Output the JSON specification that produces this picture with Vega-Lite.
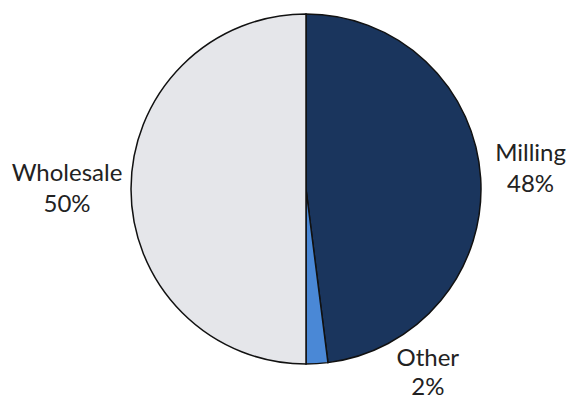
{
  "$schema": "https://vega.github.io/schema/vega-lite/v6.json",
  "autosize": {"type": "none"},
  "width": 522,
  "height": 378,
  "padding": {"left": 45, "right": 0, "top": 0, "bottom": 25},
  "background": "white",
  "view": {"stroke": null},
  "data": {"values": [
    {"cat": "Milling", "value": 48, "label": "Milling\n48%"},
    {"cat": "Other", "value": 2, "label": "Other\n2%"},
    {"cat": "Wholesale", "value": 50, "label": "Wholesale\n50%"}
  ]},
  "encoding": {
    "theta": {"field": "value", "type": "quantitative", "stack": true},
    "order": {"field": "cat", "sort": "ascending"}
  },
  "layer": [
    {
      "mark": {"type": "arc", "outerRadius": 175, "stroke": "#111111", "strokeWidth": 1.5},
      "encoding": {
        "color": {"field": "cat", "type": "nominal", "legend": null,
          "scale": {"domain": ["Milling", "Other", "Wholesale"], "range": ["#1a355d", "#4a88d6", "#e5e6ea"]}}
      }
    },
    {
      "mark": {"type": "text", "radius": 225, "dy": -21, "font": "Lato", "fontSize": 24, "lineHeight": 31, "lineBreak": "\n", "color": "#222222", "align": "center", "baseline": "middle"},
      "encoding": {"text": {"condition": {"test": "datum.cat === 'Milling'", "field": "label"}, "value": ""}}
    },
    {
      "mark": {"type": "text", "radius": 239, "dy": -15, "font": "Lato", "fontSize": 24, "lineHeight": 31, "lineBreak": "\n", "color": "#222222", "align": "center", "baseline": "middle"},
      "encoding": {"text": {"condition": {"test": "datum.cat === 'Wholesale'", "field": "label"}, "value": ""}}
    },
    {
      "mark": {"type": "text", "radius": 188, "dx": 110, "dy": -18, "font": "Lato", "fontSize": 24, "lineHeight": 29, "lineBreak": "\n", "color": "#222222", "align": "center", "baseline": "middle"},
      "encoding": {"text": {"condition": {"test": "datum.cat === 'Other'", "field": "label"}, "value": ""}}
    }
  ]
}
